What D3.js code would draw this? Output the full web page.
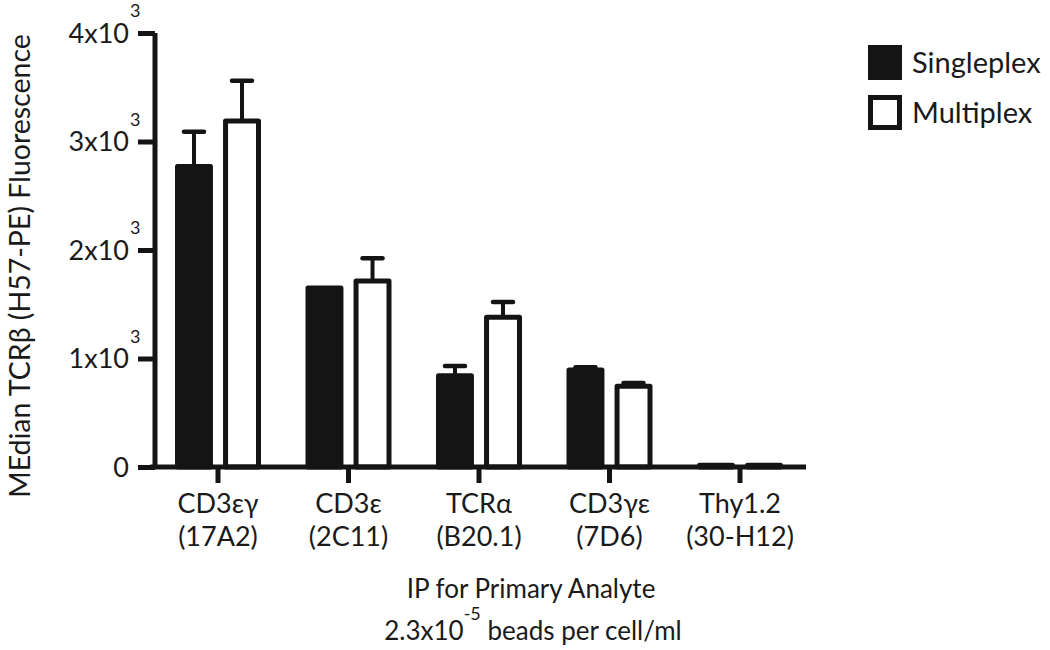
<!DOCTYPE html>
<html><head><meta charset="utf-8">
<script src="https://cdn.jsdelivr.net/npm/d3@7"></script>
<style>
body{margin:0;background:#fff;}
text{font-family:Lato,"Open Sans",sans-serif;fill:#1a1a1a;}
</style></head>
<body><svg id="c" width="1050" height="650"></svg>
<script>
const categories = ["CD3εγ","CD3ε","TCRα","CD3γε","Thy1.2"];
const clones = ["(17A2)","(2C11)","(B20.1)","(7D6)","(30-H12)"];
const series = ["Singleplex","Multiplex"];
const singleplex = [2770, 1650, 840, 895, 15];
const singleplexErr = [320, 0, 90, 25, 0];
const multiplex = [3190, 1715, 1380, 745, 15];
const multiplexErr = [370, 210, 140, 30, 0];
const yTicks = [0, 1000, 2000, 3000, 4000];
const yTickMant = ["0","1x10","2x10","3x10","4x10"];

const svg = d3.select("#c");
const ink = "#141414";
const y = d3.scaleLinear().domain([0,4000]).range([467,33]);
const x = d3.scaleBand().domain(categories).range([152.75,805.25]).padding(0);
const xs = d3.scaleBand().domain(series).range([-43,43]).paddingInner(0.21).paddingOuter(0);
const vals = {Singleplex:singleplex, Multiplex:multiplex};
const errs = {Singleplex:singleplexErr, Multiplex:multiplexErr};

// bars
const rows = [];
categories.forEach((c,i)=>series.forEach(s=>rows.push({c,s,v:vals[s][i],e:errs[s][i]})));
const sw = 5;
const g = svg.append("g");
// error bars
rows.filter(d=>d.e>0).forEach(d=>{
  const cx = x(d.c)+x.bandwidth()/2 + xs(d.s) + xs.bandwidth()/2;
  g.append("line").attr("x1",cx).attr("x2",cx).attr("y1",y(d.v)).attr("y2",y(d.v+d.e))
    .attr("stroke",ink).attr("stroke-width",4);
  g.append("line").attr("x1",cx-10).attr("x2",cx+10).attr("y1",y(d.v+d.e)).attr("y2",y(d.v+d.e))
    .attr("stroke",ink).attr("stroke-width",4.5).attr("stroke-linecap","round");
});
g.selectAll("rect.bar").data(rows).join("rect").attr("class","bar")
  .attr("x",d=>x(d.c)+x.bandwidth()/2+xs(d.s)+sw/2)
  .attr("width",xs.bandwidth()-sw)
  .attr("y",d=>y(d.v))
  .attr("height",d=>Math.max(0,y(0)-y(d.v)))
  .attr("fill",d=>d.s==="Singleplex"?ink:"#fff")
  .attr("stroke",ink).attr("stroke-width",sw).attr("stroke-linejoin","round");

// y axis
const ya = svg.append("g").attr("transform","translate(155,0)")
  .call(d3.axisLeft(y).tickValues(yTicks).tickSize(17).tickFormat(""));
ya.select(".domain").attr("d",`M0,${y(4000)}V${y(0)}`).attr("stroke",ink).attr("stroke-width",5);
ya.selectAll(".tick line").attr("stroke",ink).attr("stroke-width",5);
yTicks.forEach((t,i)=>{
  svg.append("text").attr("x",129).attr("y",y(t)+9.5).attr("text-anchor","end")
    .attr("font-size",27).text(yTickMant[i]);
  if(i>0){
    svg.append("text").attr("x",130).attr("y",y(t)-16).attr("font-size",18).text("3");
  }
});

// x axis
const xa = svg.append("g").attr("transform",`translate(0,${y(0)})`)
  .call(d3.axisBottom(x).tickSize(16).tickFormat(""));
xa.select(".domain").attr("d","M150,0H806").attr("stroke",ink).attr("stroke-width",5);
xa.selectAll(".tick line").attr("stroke",ink).attr("stroke-width",5);
categories.forEach((c,i)=>{
  const cx = x(c)+x.bandwidth()/2;
  svg.append("text").attr("x",cx).attr("y",513).attr("text-anchor","middle").attr("font-size",27).text(c);
  svg.append("text").attr("x",cx).attr("y",546).attr("text-anchor","middle").attr("font-size",27).text(clones[i]);
});

// axis titles
svg.append("text").attr("x",531).attr("y",598).attr("text-anchor","middle").attr("font-size",26)
  .text("IP for Primary Analyte");
const t2 = svg.append("text").attr("x",533).attr("y",640).attr("text-anchor","middle").attr("font-size",26);
t2.append("tspan").text("2.3x10");
t2.append("tspan").attr("font-size",18).attr("dy",-20).text("-5");
t2.append("tspan").attr("dy",20).text(" beads per cell/ml");

svg.append("text").attr("transform","translate(30,266) rotate(-90)").attr("text-anchor","middle")
  .attr("font-size",28.5).text("MEdian TCRβ (H57-PE) Fluorescence");

// legend
series.forEach((s,i)=>{
  const ly = 45 + i*50;
  svg.append("rect").attr("x",870.5).attr("y",ly+2.5).attr("width",29).attr("height",30)
    .attr("fill",s==="Singleplex"?ink:"#fff").attr("stroke",ink).attr("stroke-width",5);
  svg.append("text").attr("x",912).attr("y",ly+28).attr("font-size",29).text(s);
});
</script></body></html>
